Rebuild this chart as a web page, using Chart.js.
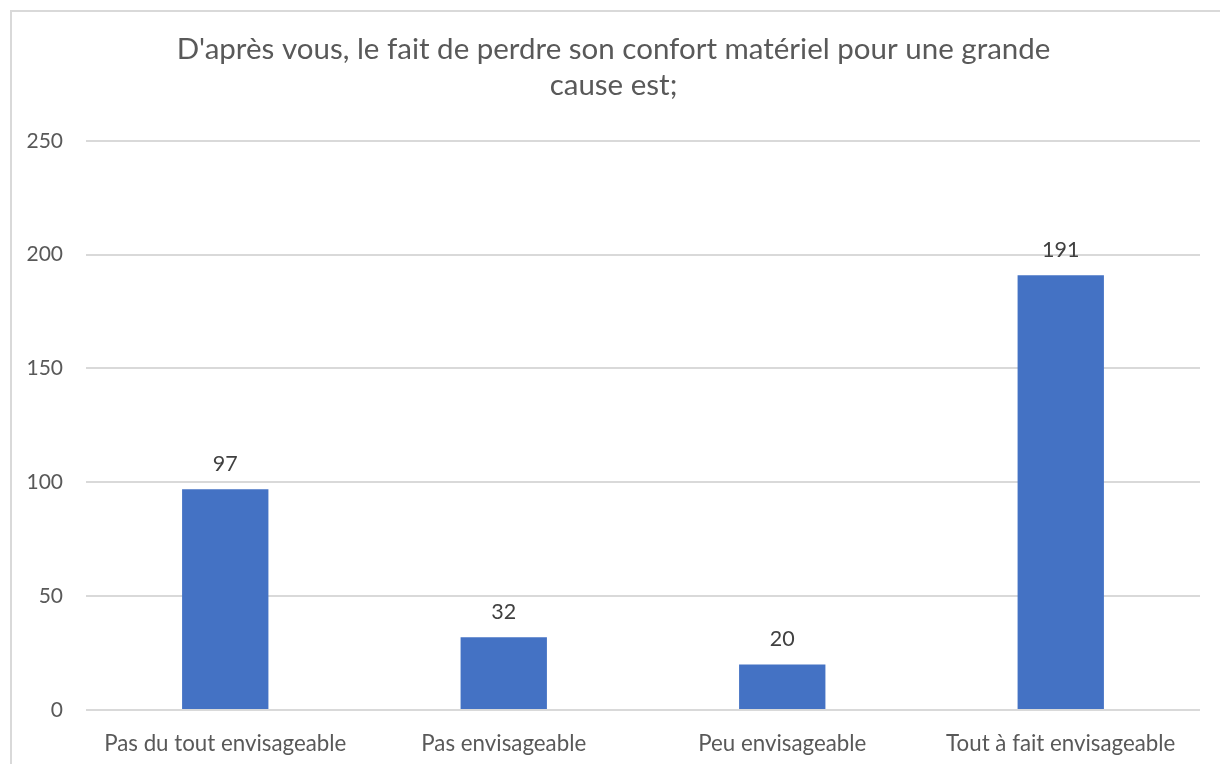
<!DOCTYPE html>
<html>
<head>
<meta charset="utf-8">
<script src="https://cdn.jsdelivr.net/npm/chart.js@4/dist/chart.umd.min.js"></script>
<style>
  html, body { margin: 0; padding: 0; background: #fff; }
  #wrap { position: relative; width: 1220px; height: 764px; }
  #chart { display: block; }
  #frame { position: absolute; left: 10px; top: 10px; right: 0; bottom: 0;
           border-left: 2px solid #d9d9d9; border-top: 2px solid #d9d9d9; pointer-events: none; }
</style>
</head>
<body>
<div id="wrap">
  <canvas id="chart" width="1220" height="764"></canvas>
  <div id="frame"></div>
</div>
<script>
var titleLines = ["D'après vous, le fait de perdre son confort matériel pour une grande", "cause est;"];
var categories = ["Pas du tout envisageable", "Pas envisageable", "Peu envisageable", "Tout à fait envisageable"];
var counts = [97, 32, 20, 191];
var yTicks = [0, 50, 100, 150, 200, 250];

var fontFamily = "Lato, 'Open Sans', sans-serif";

// labels au-dessus des barres
var barLabels = {
  id: 'barLabels',
  afterDatasetsDraw: function(chart) {
    var ctx = chart.ctx;
    var meta = chart.getDatasetMeta(0);
    ctx.save();
    ctx.font = "21.5px " + fontFamily;
    ctx.fillStyle = "#404040";
    ctx.textAlign = "center";
    ctx.textBaseline = "middle";
    meta.data.forEach(function(bar, i) {
      ctx.fillText(counts[i], bar.x, bar.y - 25);
    });
    ctx.restore();
  }
};

var ctx = document.getElementById('chart');
var myBarChart = new Chart(ctx, {
  type: 'bar',
  data: {
    labels: categories,
    datasets: [{
      data: counts,
      backgroundColor: "#4472C4",
      barPercentage: 0.31,
      categoryPercentage: 1
    }]
  },
  options: {
    responsive: false,
    animation: false,
    layout: { padding: { left: 27, right: 20, top: 22, bottom: 0 } },
    plugins: {
      legend: { display: false },
      tooltip: { enabled: false },
      title: {
        display: true,
        text: titleLines,
        color: "#595959",
        font: { family: fontFamily, size: 29.5, weight: 'normal', lineHeight: 1.2 },
        padding: { top: 10, bottom: 38 }
      }
    },
    scales: {
      x: {
        afterFit: function(scale) { scale.height = 54; },
        grid: { display: false, drawTicks: false },
        border: { display: false },
        ticks: { color: "#595959", font: { family: fontFamily, size: 22.3 }, padding: 20, maxRotation: 0 }
      },
      y: {
        min: 0,
        max: 250,
        afterBuildTicks: function(scale) {
          scale.ticks = yTicks.map(function(v) { return { value: v }; });
        },
        afterFit: function(scale) { scale.width = 59; },
        grid: { color: "#d9d9d9", lineWidth: 2, drawTicks: false },
        border: { display: false },
        ticks: { color: "#595959", font: { family: fontFamily, size: 21 }, padding: 23 }
      }
    }
  },
  plugins: [barLabels]
});
</script>
</body>
</html>
